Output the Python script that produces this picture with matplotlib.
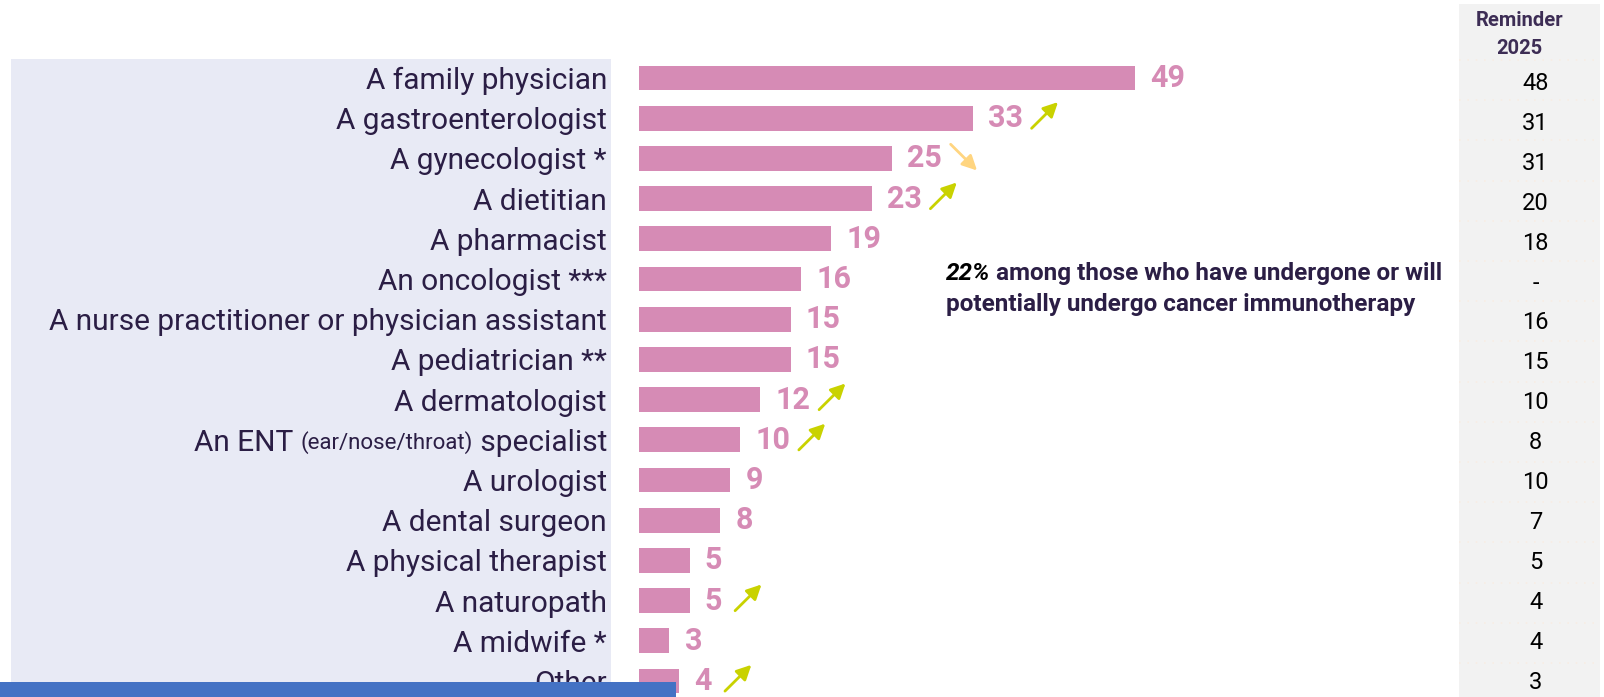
import matplotlib.pyplot as plt
from matplotlib.patches import Rectangle
from matplotlib import transforms

plt.rcParams['font.family'] = ['Roboto', 'DejaVu Sans']

categories = ["A family physician", "A gastroenterologist", "A gynecologist *", "A dietitian",
              "A pharmacist", "An oncologist ***", "A nurse practitioner or physician assistant",
              "A pediatrician **", "A dermatologist", "An ENT (ear/nose/throat) specialist",
              "A urologist", "A dental surgeon", "A physical therapist", "A naturopath",
              "A midwife *", "Other"]
values = [49, 33, 25, 23, 19, 16, 15, 15, 12, 10, 9, 8, 5, 5, 3, 4]
reminder_2025 = ["48", "31", "31", "20", "18", "-", "16", "15", "10", "8", "10", "7", "5", "4", "4", "3"]
trend = [None, "up", "down", "up", None, None, None, None, "up", "up", None, None, None, "up", None, "up"]
note_pct = "22%"
note_text = " among those who have undergone or will"
note_text2 = "potentially undergo cancer immunotherapy"

PINK = "#D68BB5"
DARK = "#2B1E45"
HEAD = "#3D2D55"
GREEN = "#C9D200"
ORANGE = "#FFD580"

W, H = 1604, 697
fig = plt.figure(figsize=(W / 100, H / 100), dpi=100)
ax = fig.add_axes([0, 0, 1, 1])
px_unit = 10.12
row_px = 40.2
x0_px, y0_px = 639, 78
ax.set_xlim(-x0_px / px_unit, (W - x0_px) / px_unit)
ax.set_ylim((H - y0_px) / row_px, -y0_px / row_px)
ax.axis("off")

n = len(categories)
rows = list(range(n))
LABEL_FS = 21.5

# label panel and reminder panel
ax.add_patch(Rectangle((-628 / px_unit, -0.47), 600 / px_unit, n + 1, color="#E8EAF5", zorder=0, lw=0))
rx0, rx1 = (1459 - x0_px) / px_unit, (1600 - x0_px) / px_unit
ax.add_patch(Rectangle((rx0, -1.85), rx1 - rx0, n + 3, color="#F2F2F2", zorder=0, lw=0))
for i in range(-1, n):
    ax.plot([rx0, rx1], [i + 0.55, i + 0.55], ls=(0, (1, 4)), color="#F7EDE4", lw=1.2, zorder=1)

ax.barh(rows, values, height=0.62, color=PINK, zorder=2)

label_x = (607 - x0_px) / px_unit
vx = (rx0 + rx1) / 2 + 0.6
for i, (cat, v) in enumerate(zip(categories, values)):
    if "(" in cat:
        pre, rest = cat.split("(", 1)
        mid, post = rest.split(")", 1)
        parts = [(post, LABEL_FS), ("(" + mid + ")", 16), (pre, LABEL_FS)]
        offset = 0
        fig.canvas.draw()
        r = fig.canvas.get_renderer()
        for txt, fs in parts:
            tr = transforms.offset_copy(ax.transData, fig=fig, x=-offset, y=0, units="dots")
            t = ax.text(label_x, i, txt, transform=tr, ha="right", va="center_baseline",
                        fontsize=fs, color=DARK)
            offset += t.get_window_extent(r).width
    else:
        ax.text(label_x, i, cat, ha="right", va="center_baseline", fontsize=LABEL_FS, color=DARK)
    ax.text(v + 1.5, i, str(v), ha="left", va="center", fontsize=22, fontweight="bold", color=PINK)
    ax.text(vx, i + 0.13 - 0.006 * i, reminder_2025[i], ha="center", va="center",
            fontsize=17, color="black")

for i, (v, d) in enumerate(zip(values, trend)):
    if d is None:
        continue
    sx = v + (5.6 if v >= 10 else 4.3)
    if d == "up":
        ax.annotate("", xy=(sx + 3, i - 0.45), xytext=(sx, i + 0.3),
                    arrowprops=dict(arrowstyle="-|>", color=GREEN, lw=2, mutation_scale=22))
    else:
        ax.annotate("", xy=(sx + 3, i + 0.35), xytext=(sx, i - 0.4),
                    arrowprops=dict(arrowstyle="-|>", color=ORANGE, lw=2, mutation_scale=22))

# header
hx = (rx0 + rx1) / 2 - 1.0
ax.text(hx, (21 - y0_px) / row_px, "Reminder", ha="center", va="center", fontsize=14.5,
        fontweight="bold", color=HEAD)
ax.text(hx, (49 - y0_px) / row_px, "2025", ha="center", va="center", fontsize=14.5,
        fontweight="bold", color=HEAD)

# note
nx = (946 - x0_px) / px_unit
ny1 = (271 - y0_px) / row_px
ny2 = (302 - y0_px) / row_px
t = ax.text(nx, ny1, note_pct, ha="left", va="center_baseline", fontsize=17.5,
            fontweight="bold", fontstyle="italic", color="black")
fig.canvas.draw()
w = t.get_window_extent(fig.canvas.get_renderer()).width
tr = transforms.offset_copy(ax.transData, fig=fig, x=w, y=0, units="dots")
ax.text(nx, ny1, note_text, transform=tr, ha="left", va="center_baseline", fontsize=17.5,
        fontweight="bold", color=DARK)
ax.text(nx, ny2, note_text2, ha="left", va="center_baseline", fontsize=17.5,
        fontweight="bold", color=DARK)

fig.patches.append(Rectangle((0, 0), 676 / W, 15 / H, transform=fig.transFigure,
                             color="#4472C4", zorder=10, lw=0))

fig.savefig("out.png", dpi=100)
